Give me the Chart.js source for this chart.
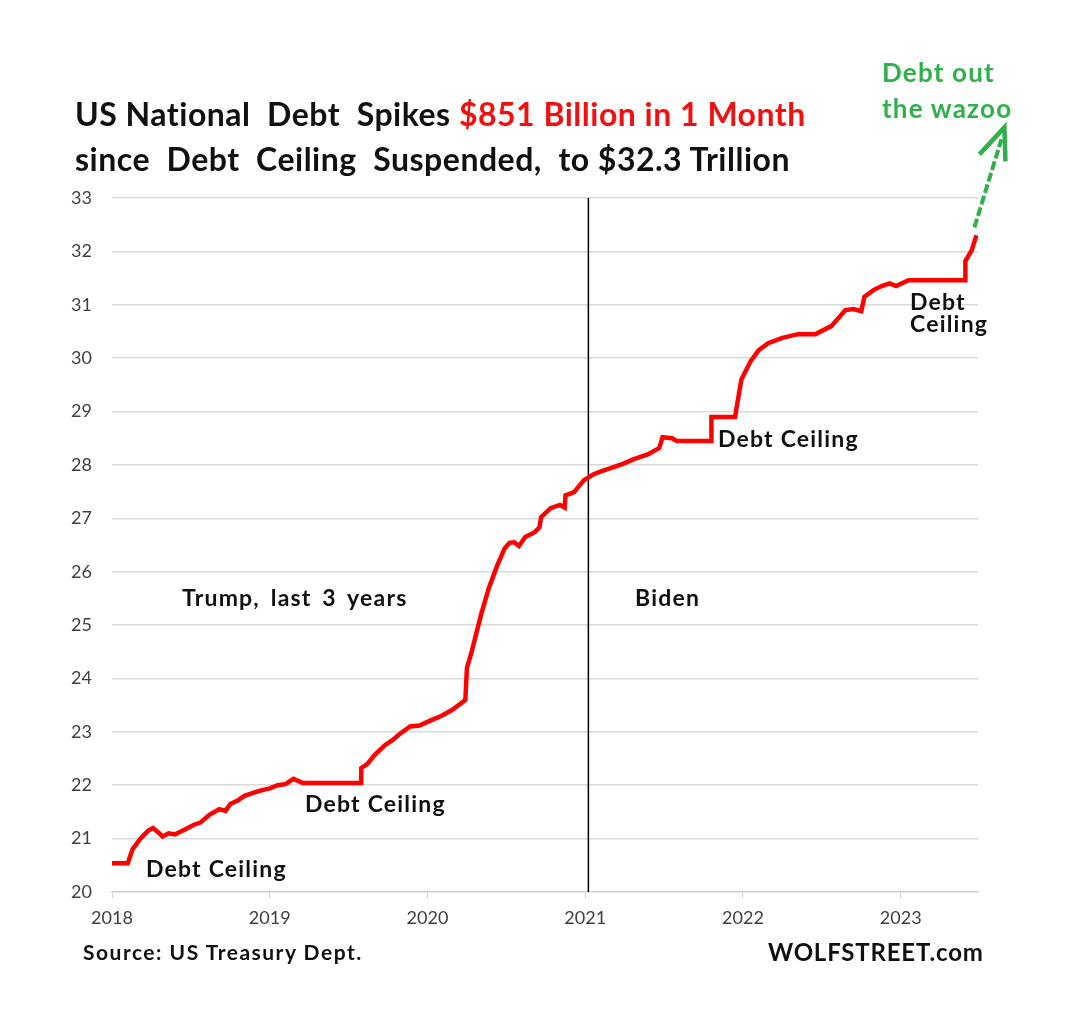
<!DOCTYPE html>
<html>
<head>
<meta charset="utf-8">
<script src="https://cdn.jsdelivr.net/npm/chart.js@4.4.0/dist/chart.umd.min.js"></script>
<style>
  body { margin: 0; background: #fff; }
  #wrap { position: relative; width: 1080px; height: 1030px; font-family: Lato, "Open Sans", sans-serif; }
  canvas { position: absolute; left: 0; top: 0; }
  .t { position: absolute; font-weight: bold; line-height: 1; white-space: nowrap; color: #111; }
  .nota { font-size: 23px; letter-spacing: 1.2px; }
</style>
</head>
<body>
<div id="wrap">
  <canvas id="grafico" width="1080" height="1030"></canvas>
  <div class="t" style="left:75px; top:98px; font-size:32px; letter-spacing:0.5px;">US National&nbsp; Debt&nbsp; Spikes <span style="color:#f01010">$851 Billion in 1 Month</span></div>
  <div class="t" style="left:75px; top:143px; font-size:32px; letter-spacing:0.5px;">since&nbsp; Debt&nbsp; Ceiling&nbsp; Suspended,&nbsp; to $32.3 Trillion</div>
  <div class="t" style="left:882px; top:59px; font-size:26px; letter-spacing:1.2px; color:#2fb04a;">Debt out</div>
  <div class="t" style="left:882px; top:95px; font-size:26px; letter-spacing:1.2px; color:#2fb04a;">the wazoo</div>
  <div class="t nota" style="left:146px; top:857px;">Debt Ceiling</div>
  <div class="t nota" style="left:305px; top:792px;">Debt Ceiling</div>
  <div class="t nota" style="left:718px; top:427px;">Debt Ceiling</div>
  <div class="t nota" style="left:910px; top:290px;">Debt</div>
  <div class="t nota" style="left:910px; top:312px;">Ceiling</div>
  <div class="t nota" style="left:182px; top:586px; word-spacing:4px;">Trump, last 3 years</div>
  <div class="t nota" style="left:635px; top:586px;">Biden</div>
  <div class="t" style="left:83px; top:941px; font-size:21px; letter-spacing:1.5px;">Source: US Treasury Dept.</div>
  <div class="t" style="left:768px; top:940px; font-size:24px; letter-spacing:0.8px;">WOLFSTREET.com</div>
</div>
<script>
// fechas en años decimales y deuda total en billones de dólares (trillions)
const fechas = [2018.00, 2018.10, 2018.13, 2018.18, 2018.23, 2018.26, 2018.30, 2018.32, 2018.36, 2018.40, 2018.44,
  2018.48, 2018.52, 2018.56, 2018.60, 2018.62, 2018.68, 2018.72, 2018.75, 2018.80, 2018.84, 2018.90, 2018.94,
  2019.00, 2019.05, 2019.10, 2019.15, 2019.21, 2019.58, 2019.58, 2019.62, 2019.66, 2019.73, 2019.78, 2019.82,
  2019.89, 2019.95, 2020.01, 2020.09, 2020.15, 2020.22, 2020.24, 2020.25, 2020.28, 2020.31, 2020.34, 2020.39,
  2020.44, 2020.49, 2020.52, 2020.55, 2020.58, 2020.62, 2020.68, 2020.71, 2020.72, 2020.78, 2020.84, 2020.87,
  2020.875, 2020.93, 2020.99, 2021.05, 2021.10, 2021.17, 2021.24, 2021.30, 2021.35, 2021.40, 2021.47, 2021.49,
  2021.55, 2021.58, 2021.80, 2021.80, 2021.95, 2021.96, 2021.99, 2022.05, 2022.10, 2022.16, 2022.25, 2022.35,
  2022.46, 2022.56, 2022.65, 2022.70, 2022.75, 2022.77, 2022.83, 2022.88, 2022.93, 2022.97, 2023.05, 2023.41,
  2023.41, 2023.45, 2023.48];
const deuda = [20.54, 20.54, 20.80, 21.00, 21.15, 21.20, 21.10, 21.04, 21.10, 21.08, 21.14,
  21.20, 21.26, 21.30, 21.40, 21.45, 21.55, 21.52, 21.65, 21.72, 21.80, 21.86, 21.90,
  21.94, 22.00, 22.02, 22.12, 22.04, 22.04, 22.32, 22.40, 22.55, 22.75, 22.85, 22.95,
  23.10, 23.12, 23.20, 23.30, 23.40, 23.55, 23.60, 24.20, 24.50, 24.85, 25.20, 25.70,
  26.10, 26.44, 26.54, 26.55, 26.48, 26.65, 26.74, 26.83, 27.02, 27.19, 27.25, 27.20,
  27.43, 27.49, 27.71, 27.82, 27.88, 27.95, 28.02, 28.10, 28.15, 28.20, 28.32, 28.52,
  28.50, 28.45, 28.45, 28.90, 28.90, 29.08, 29.60, 29.95, 30.15, 30.28, 30.38, 30.45,
  30.45, 30.60, 30.90, 30.92, 30.88, 31.15, 31.28, 31.35, 31.40, 31.35, 31.46, 31.46,
  31.82, 32.02, 32.30];
const investidura = 2021.02;
const marcasY = [20, 21, 22, 23, 24, 25, 26, 27, 28, 29, 30, 31, 32, 33];
const marcasX = [2018, 2019, 2020, 2021, 2022, 2023];

// flecha verde punteada que sale del último punto
const flecha = {
  id: 'flecha',
  afterDatasetsDraw(chart) {
    const meta = chart.getDatasetMeta(0);
    const ultimo = meta.data[meta.data.length - 1];
    const ctx = chart.ctx;
    const x0 = ultimo.x - 2, y0 = ultimo.y - 8;
    const x1 = x0 + 30, y1 = y0 - 100;
    ctx.save();
    ctx.strokeStyle = '#2fb04a';
    ctx.lineWidth = 4;
    ctx.lineCap = 'butt';
    ctx.setLineDash([9, 3]);
    ctx.beginPath();
    ctx.moveTo(x0, y0);
    ctx.lineTo(x1 - 3, y1 + 12);
    ctx.stroke();
    ctx.setLineDash([]);
    ctx.lineWidth = 4.5;
    ctx.beginPath();
    ctx.moveTo(x1 - 25, y1 + 27);
    ctx.lineTo(x1, y1);
    ctx.lineTo(x1 + 1, y1 + 34);
    ctx.stroke();
    ctx.restore();
  }
};

new Chart(document.getElementById('grafico'), {
  type: 'line',
  data: {
    datasets: [{
      data: fechas.map((f, i) => ({ x: f, y: deuda[i] })),
      borderColor: '#ff0000',
      borderWidth: 4.5,
      pointRadius: 0,
      tension: 0
    }, {
      data: [{ x: investidura, y: 20 }, { x: investidura, y: 33 }],
      borderColor: '#000',
      borderWidth: 1.5,
      pointRadius: 0
    }]
  },
  options: {
    responsive: false,
    animation: false,
    layout: { padding: { left: 0, top: 198, right: 102, bottom: 98 } },
    plugins: { legend: { display: false }, tooltip: { enabled: false } },
    scales: {
      x: {
        type: 'linear',
        min: 2018,
        max: 2023.49,
        afterFit: s => { s.height = 40; },
        afterBuildTicks: s => { s.ticks = marcasX.map(v => ({ value: v })); },
        ticks: { callback: v => String(v), color: '#404040', font: { family: 'Lato', size: 18 }, padding: 9, maxRotation: 0 },
        grid: { drawOnChartArea: false, tickLength: 6, color: '#d0d0d0' },
        border: { color: '#d0d0d0', width: 1.5 }
      },
      y: {
        min: 20,
        max: 33,
        afterFit: s => { s.width = 112; },
        afterBuildTicks: s => { s.ticks = marcasY.map(v => ({ value: v })); },
        ticks: { color: '#404040', font: { family: 'Lato', size: 18 }, padding: 20 },
        grid: { drawTicks: false, color: ctx => ctx.tick.value === 20 ? 'rgba(0,0,0,0)' : '#d9d9d9', lineWidth: 1.5 },
        border: { display: false }
      }
    }
  },
  plugins: [flecha]
});
</script>
</body>
</html>
